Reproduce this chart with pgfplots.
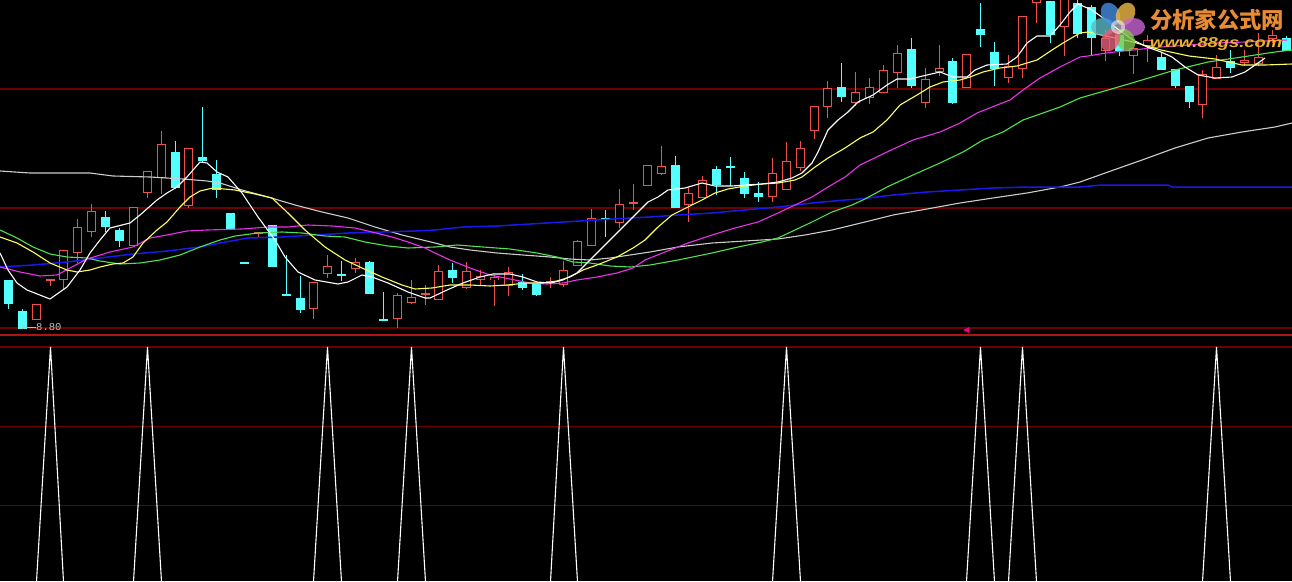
\documentclass[border=0pt]{standalone}
\usepackage{pgfplots}
\pgfplotsset{compat=1.18}
\usepackage{pgfplotstable}
\usepackage{graphicx}
\usepackage{fontspec}
\setmainfont{Liberation Sans}
\newfontfamily\cjk{Noto Sans CJK SC}
\newfontfamily\lmono{Liberation Mono}

\definecolor{upred}{RGB}{240,80,76}
\definecolor{dncyan}{RGB}{84,255,255}
\definecolor{gridred}{RGB}{110,0,0}
\definecolor{sepred}{RGB}{175,20,20}
\definecolor{ma5}{RGB}{255,255,255}
\definecolor{ma10}{RGB}{255,255,90}
\definecolor{ma20}{RGB}{235,50,235}
\definecolor{ma30}{RGB}{80,225,80}
\definecolor{ma60}{RGB}{25,25,235}
\definecolor{ma120}{RGB}{205,205,205}
\definecolor{labgray}{RGB}{190,190,190}
\definecolor{logoorange}{RGB}{232,140,52}
\definecolor{logoyellow}{RGB}{236,176,48}
\definecolor{petalteal}{RGB}{90,185,195}
\definecolor{petalblue}{RGB}{70,140,225}
\definecolor{petalorange}{RGB}{240,185,70}
\definecolor{petalmag}{RGB}{200,100,210}
\definecolor{petalgreen}{RGB}{130,200,80}
\definecolor{petalred}{RGB}{230,95,120}

% candles: x (px), body top, body bottom, high, low  (screen rows, downward)
\pgfplotstableread{
x top bot hi lo
36.5 304 319 304 319
50.5 279 280 279 285
63.5 250 279 250 288
77.5 227 252 219 262
91.5 211 231 204 236
133.5 207 245 207 245
147.5 171 192 171 197
161.5 144 177 131 193
188.5 148 205 148 207
258.5 232 233 232 237
313.5 282 308 282 318
327.5 266 273 255 277
355.5 262 268 258 272
397.5 295 318 293 327
411.5 297 302 280 303
425.5 293 294 285 304
438.5 271 299 265 299
466.5 271 287 262 288
480.5 276 279 270 284
494.5 277 279 275 305
508.5 272 285 267 295
550.5 281 282 277 287
563.5 270 284 261 286
577.5 241 265 240 265
591.5 218 245 209 245
619.5 204 222 189 227
633.5 202 203 184 209
647.5 165 185 165 185
661.5 166 173 146 174
688.5 193 204 187 221
702.5 180 197 176 197
772.5 173 196 158 201
786.5 161 189 142 189
800.5 148 167 141 170
814.5 106 130 106 138
827.5 88 106 81 117
855.5 92 102 72 105
869.5 87 97 78 103
883.5 70 92 65 92
897.5 53 72 45 87
925.5 79 102 68 107
939.5 68 71 45 75
966.5 54 87 54 87
1008.5 66 77 55 82
1022.5 16 68 16 77
1036.5 -8 2 -8 22
1064.5 -6 26 -6 55
1105.5 38 50 30 60
1133.5 48 55 48 73
1147.5 40 45 35 61
1202.5 74 104 70 117
1216.5 67 78 55 78
1244.5 60 62 50 65
1258.5 57 63 33 65
1272.5 35 38 30 42
}\upcandles

\pgfplotstableread{
x top bot hi lo
8.5 280 303 280 308
22.5 311 328 309 328
105.5 217 226 211 231
119.5 230 240 228 246
175.5 152 187 141 188
202.5 157 160 107 162
216.5 174 189 160 197
230.5 213 229 213 229
244.5 262 263 262 263
272.5 225 266 225 266
286.5 294 295 255 295
300.5 298 309 276 312
341.5 274 275 261 280
369.5 262 293 261 293
383.5 319 320 292 320
452.5 270 277 263 282
522.5 282 287 274 289
536.5 283 294 283 295
605.5 218 219 210 236
675.5 165 207 156 207
716.5 169 184 166 194
730.5 166 167 157 185
744.5 178 193 172 197
758.5 193 196 182 201
841.5 87 96 63 101
911.5 49 85 38 87
952.5 61 102 58 103
980.5 29 34 3 46
994.5 52 68 42 85
1050.5 1 34 1 42
1077.5 3 33 0 37
1091.5 7 37 5 55
1119.5 35 50 33 55
1161.5 57 69 52 69
1175.5 69 85 69 87
1189.5 86 101 86 107
1230.5 61 67 50 72
1286.5 38 50 36 50
}\dncandles

\pgfplotstableread{
x y
0 253
8 270
17 283
27 290
50 299
67 287
80 270
90 253
100 240
110 228
130 223
140 215
157 200
167 193
177 187
187 177
200 162
207 163
217 172
228 177
242 193
258 217
275 240
285 257
298 272
315 280
338 284
348 282
362 275
372 277
388 283
408 292
425 298
430 298
447 290
463 283
480 277
493 274
510 274
523 277
537 282
550 283
563 280
577 273
590 260
607 243
623 227
637 213
648 202
658 197
668 190
685 188
702 183
715 186
732 186
745 185
762 184
778 182
792 178
802 173
812 163
818 152
828 130
838 120
848 112
858 102
873 95
887 85
897 79
910 79
927 75
940 72
953 77
967 77
975 70
987 65
1007 64
1017 57
1027 43
1037 36
1050 36
1060 25
1070 12
1078 4
1092 10
1106 20
1119 30
1133 40
1147 47
1161 52
1172 57
1185 67
1198 75
1215 78
1232 77
1245 72
1258 63
1265 58
}\maA

\pgfplotstableread{
x y
0 237
17 243
33 252
50 263
67 270
77 272
90 270
100 267
113 264
123 263
133 257
143 243
157 230
167 222
180 207
190 197
200 191
213 188
235 190
255 194
272 198
288 213
305 230
325 247
345 260
362 268
382 277
402 285
415 289
432 288
450 285
470 285
490 286
507 285
527 283
543 283
557 281
570 277
583 270
597 265
617 257
633 248
645 240
658 227
672 215
688 207
702 200
715 193
728 189
745 186
762 184
778 183
795 180
802 177
815 167
828 158
845 148
860 138
873 132
887 120
900 105
917 95
930 87
943 82
960 80
970 77
983 72
1000 68
1017 66
1037 60
1052 50
1063 43
1080 33
1088 32
1106 36
1133 42
1161 50
1189 56
1215 59
1242 65
1265 65
1292 64
}\maB

\pgfplotstableread{
x y
0 267
20 272
40 276
57 275
70 268
87 259
110 252
133 247
150 238
167 235
187 231
207 230
242 229
268 227
288 227
308 225
332 226
355 228
372 232
392 237
408 242
425 248
435 253
450 260
470 268
490 275
510 279
530 283
547 284
563 283
577 280
597 277
617 273
633 268
645 260
665 252
688 243
712 235
735 228
758 222
778 213
795 205
812 197
828 187
845 177
860 165
887 152
913 140
940 132
960 123
977 113
997 105
1010 100
1023 90
1040 78
1060 67
1080 57
1088 56
1106 53
1133 50
1161 47
1189 45
1217 43
1245 42
1287 40
}\maC

\pgfplotstableread{
x y
0 230
17 238
33 247
50 254
67 257
87 258
100 261
120 264
140 263
160 260
180 255
200 247
220 240
235 236
258 233
282 232
302 233
325 236
345 237
365 242
388 246
408 248
435 247
457 245
483 247
510 249
537 253
557 257
573 262
590 263
610 266
630 267
650 265
678 260
712 253
738 247
762 242
778 238
795 230
812 222
832 212
852 205
865 199
887 187
913 175
940 163
963 152
983 140
1003 132
1023 120
1043 113
1060 107
1080 98
1108 90
1142 80
1175 70
1208 62
1242 57
1275 52
1292 50
}\maD

\pgfplotstableread{
x y
0 267
33 265
67 262
100 258
133 254
167 251
200 247
220 243
248 238
282 237
315 235
348 233
382 232
415 231
435 230
463 227
497 226
530 224
563 222
597 220
630 218
650 217
678 215
712 213
745 210
778 207
812 203
845 200
860 199
893 195
927 192
960 190
993 188
1027 187
1060 187
1080 187
1102 185
1168 185
1172 187
1292 187
}\maE

\pgfplotstableread{
x y
0 171
30 173
90 173
113 176
150 177
183 179
207 181
220 183
242 190
268 197
295 205
322 212
348 218
375 227
402 235
435 243
450 247
470 250
497 253
523 255
550 257
570 259
590 260
610 258
630 255
650 252
678 247
712 243
745 241
778 239
805 235
832 230
865 222
893 215
927 209
960 203
993 198
1027 193
1060 187
1080 182
1108 172
1142 160
1175 148
1208 138
1242 132
1275 127
1292 123
}\maF

\pgfplotstableread{
x s
0 0
36.5 0
50.5 1
63.5 0
133.5 0
147.5 1
161.5 0
313.5 0
327.5 1
341.5 0
397.5 0
411.5 1
425.5 0
550.5 0
563.5 1
577.5 0
772.5 0
786.5 1
800.5 0
966.5 0
980.5 1
994.5 0
1008.5 0
1022.5 1
1036.5 0
1202.5 0
1216.5 1
1230.5 0
1292 0
}\signal

\pgfplotsset{
  ebar/.style={draw=none, mark=none, forget plot,
    error bars/.cd, y dir=both, y explicit, error mark=none,
    error bar style={#1}},
}

\begin{document}
\begin{tikzpicture}
\begin{axis}[
  at={(0pt,245pt)}, anchor=south west,
  width=1292pt, height=336pt, scale only axis,
  xmin=0, xmax=1292, ymin=0, ymax=336, y dir=reverse,
  ticks=none, axis line style={draw=none},
  axis background/.style={fill=black},
]
\addplot[gridred, line width=1.3pt, forget plot] coordinates {(0,89) (1292,89)};
\addplot[gridred, line width=1.3pt, forget plot] coordinates {(0,208) (1292,208)};
\addplot[gridred, line width=1.3pt, forget plot] coordinates {(0,328) (1292,328)};
\addplot[sepred, line width=1.6pt, forget plot] coordinates {(0,335) (1292,335)};
% wicks
\addplot[ebar={draw=upred, line width=1.2pt}] table[x=x, y expr=(\thisrow{hi}+\thisrow{lo}+1)/2, y error expr=(\thisrow{lo}-\thisrow{hi}+1)/2] {\upcandles};
\addplot[ebar={draw=dncyan, line width=1.2pt}] table[x=x, y expr=(\thisrow{hi}+\thisrow{lo}+1)/2, y error expr=(\thisrow{lo}-\thisrow{hi}+1)/2] {\dncandles};
% up bodies (hollow)
\addplot[ebar={draw=upred, line width=9pt}] table[x=x, y expr=(\thisrow{top}+\thisrow{bot}+1)/2, y error expr=(\thisrow{bot}-\thisrow{top}+1)/2] {\upcandles};
\addplot[ebar={draw=black, line width=6.4pt}] table[x=x, y expr=(\thisrow{top}+\thisrow{bot}+1)/2, y error expr={max((\thisrow{bot}-\thisrow{top}-1.6)/2,0)}] {\upcandles};
% down bodies (filled)
\addplot[ebar={draw=dncyan, line width=9pt}] table[x=x, y expr=(\thisrow{top}+\thisrow{bot}+1)/2, y error expr=(\thisrow{bot}-\thisrow{top}+1)/2] {\dncandles};
% moving averages
\addplot[ma120, line width=1.1pt] table[x=x,y=y] {\maF};
\addplot[ma60, line width=1.5pt] table[x=x,y=y] {\maE};
\addplot[ma30, line width=1.1pt] table[x=x,y=y] {\maD};
\addplot[ma20, line width=1.1pt] table[x=x,y=y] {\maC};
\addplot[ma10, line width=1.1pt] table[x=x,y=y] {\maB};
\addplot[ma5, line width=1.1pt] table[x=x,y=y] {\maA};
\end{axis}

\begin{axis}[
  at={(0pt,0pt)}, anchor=south west,
  width=1292pt, height=245pt, scale only axis,
  xmin=0, xmax=1292, ymin=0.003, ymax=1.047,
  ticks=none, axis line style={draw=none},
  axis background/.style={fill=black},
]
\addplot[gridred, line width=1.3pt, forget plot] coordinates {(0,1) (1292,1)};
\addplot[gridred, line width=1.3pt, forget plot] coordinates {(0,0.662) (1292,0.662)};
\addplot[gridred, line width=1.3pt, forget plot] coordinates {(0,0.325) (1292,0.325)};
\addplot[white, line width=1.1pt] table[x=x,y=s] {\signal};
\end{axis}

% price label 8.80
\draw[labgray, line width=0.8pt] (25pt,254pt) -- (36pt,254pt);
\draw[labgray, line width=0.8pt] (22pt,252pt) -- (25pt,254pt) -- (22pt,256pt);
\node[anchor=west, inner sep=0pt, text=labgray, font=\lmono\fontsize{10.5}{10.5}\selectfont] at (36pt,254pt) {8.80};
% magenta pointer
\fill[magenta] (963pt,251pt) -- (969pt,254pt) -- (969pt,248pt) -- cycle;

% logo
\begin{scope}[shift={(1118pt,554pt)}]
  \foreach \a/\c in {180/petalteal,120/petalblue,60/petalorange,0/petalmag,-60/petalgreen,-120/petalred}
    \fill[\c, opacity=0.8, rotate=\a] (15pt,0pt) ellipse [x radius=12pt, y radius=9pt];
  \fill[white, opacity=0.55] (0,0) circle (7pt);
\end{scope}
\node[anchor=base west, inner sep=0pt, text=logoorange] at (1150pt,552pt) {\resizebox{134pt}{!}{\cjk\bfseries 分析家公式网}};
\node[anchor=base west, inner sep=0pt, text=logoyellow] at (1150pt,533pt) {\resizebox{132pt}{10pt}{\bfseries\itshape www.88gs.com}};

\pgfresetboundingbox
\path[use as bounding box] (0pt,0pt) rectangle (1292pt,581pt);
\end{tikzpicture}
\end{document}
